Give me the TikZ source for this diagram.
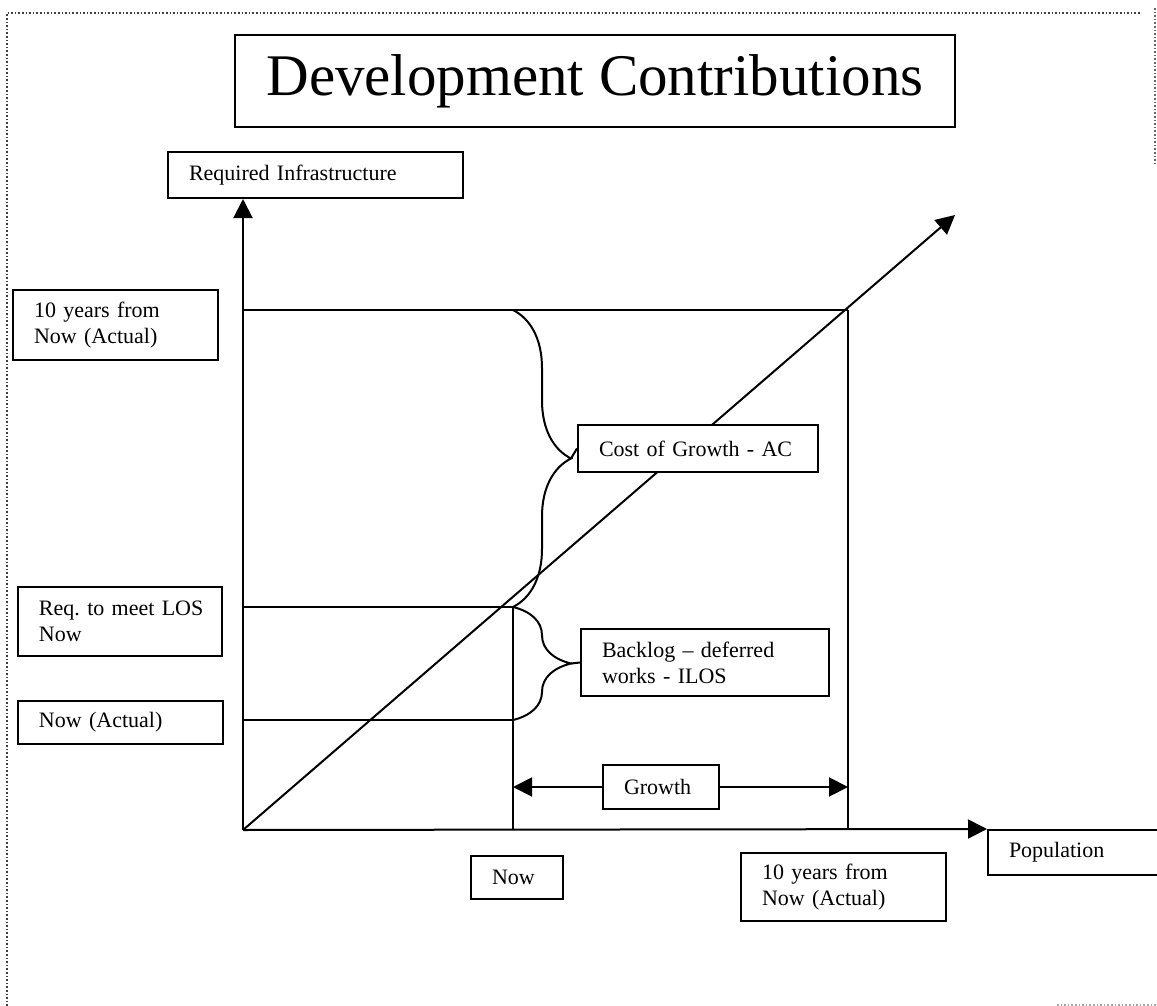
\documentclass[tikz,border=0pt]{standalone}
\usepackage{fontspec}
\setmainfont{Liberation Serif}
\usetikzlibrary{arrows.meta}
\usetikzlibrary{calc}
\usetikzlibrary{decorations.pathreplacing}

\begin{document}
\begin{tikzpicture}[x=0.5pt, y=-0.5pt, line width=1pt,
   box_style/.style={draw=black, fill=white, line width=1pt, anchor=north west, align=left, inner xsep=10.5pt, inner ysep=2pt, font=\fontsize{11}{13}\selectfont},
   arrow_style/.style={draw=black, line width=1pt, -{Triangle[length=9.5pt,width=9.5pt]}},
   brace_style/.style={draw=black, line width=1pt, decorate, decoration={brace, amplitude=29pt}}]
	\useasboundingbox (0,0) rectangle (1157,1006);
	% edge of the scanned page
	\draw [densely dotted, black!75, line width=0.8pt] (7,1006) -- (7,13) -- (1140,13);
	\draw [densely dotted, black!60, line width=0.8pt] (1155,8) -- (1155,165);
	\draw [densely dotted, black!35, line width=0.8pt] (1057,1005) -- (1157,1005);

	\coordinate (o) at (243,830);
	\coordinate (c10) at (848,310);
	\coordinate (los) at (513,607);
	\coordinate (na) at (513,720);
	\coordinate (ctop) at (los |- c10);
	\coordinate (tip) at (955,215);

	% growth line goes behind the boxes
	\draw [arrow_style] (o) -- (tip);

	\node [draw=black, line width=1pt, minimum width=360pt, minimum height=46pt, font=\fontsize{29.5}{34}\selectfont] (title) at (595,81) {Development Contributions};

	\node [box_style, text width=126.5pt, minimum height=23pt] (reqinf) at (167,151) {Required~Infrastructure};
	\node [box_style, text width=81.5pt, minimum height=35pt] (yrsnow) at (12,289) {10~years~from\\Now~(Actual)};
	\node [box_style, text width=81pt, minimum height=34.5pt] (reqlos) at (17,586) {Req.~to~meet~LOS\\Now};
	\node [box_style, text width=81.5pt, minimum height=21.5pt] (nowact) at (17,700) {Now~(Actual)};
	\node [box_style, text width=99pt, minimum height=23.5pt] (cost) at (577,424) {Cost~of~Growth~-~AC};
	\node [box_style, text width=103pt, minimum height=33.5pt] (backlog) at (580,628) {Backlog~--~deferred\\works~-~ILOS};
	\node [box_style, text width=37pt, minimum height=22pt] (growth) at (602,764) {Growth};
	\node [box_style, text width=25pt, minimum height=21.5pt] (now) at (470,855) {Now};
	\node [box_style, text width=81.5pt, minimum height=34pt] (yrsx) at (740,852) {10~years~from\\Now~(Actual)};
	\node [box_style, text width=90pt, minimum height=22.5pt] (pop) at (987,829) {Population};

	% axes
	\draw [arrow_style] (o) -- (o |- reqinf.south);
	\draw [arrow_style] (o) -- (pop.north west);

	\foreach \lvl in {c10, los, na}
	  \draw (o |- \lvl) -- (\lvl);
	\draw (c10) -- (c10 |- o);
	\draw (los) -- (los |- o);

	\draw [brace_style] (ctop) -- (los);
	\draw [brace_style] (los) -- (na);
	\draw ($(ctop)!.5!(los)+(58,0)$) -- (cost.west);
	\draw ($(los)!.5!(na)+(58,0)$) -- (backlog.west);

	\draw [arrow_style] (growth.west) -- (growth.west -| los);
	\draw [arrow_style] (growth.east) -- (growth.east -| c10);
\end{tikzpicture}
\end{document}
